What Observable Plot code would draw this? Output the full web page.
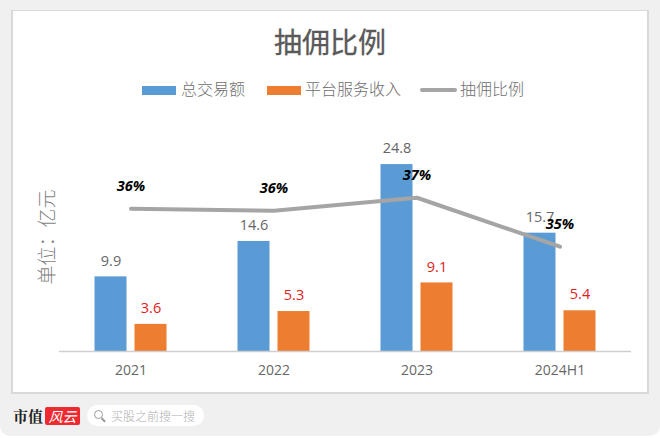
<!DOCTYPE html>
<html><head><meta charset="utf-8">
<script src="https://cdn.jsdelivr.net/npm/d3@7"></script>
<script src="https://cdn.jsdelivr.net/npm/@observablehq/plot@0.6"></script>
<style>
html,body{margin:0;padding:0;background:#fff}
#page{position:relative;width:660px;height:436px;background:#f0f0f0;border-radius:0 0 10px 10px;overflow:hidden;font-family:"Noto Sans CJK SC",sans-serif}
#panel{position:absolute;left:11px;top:10px;width:634px;height:381px;background:#fff;border:2px solid #d9d9d9;border-width:1.5px 2px 2px 2px}
#chart{position:absolute;left:0;top:0}
.t{position:absolute;white-space:nowrap;line-height:1}
.sw{position:absolute}
#title{left:0;width:660px;text-align:center;top:27px;font-size:28px;color:#595959;font-weight:400;-webkit-text-stroke:0.3px #595959}
.lg{top:80px;font-size:16px;color:#6e6e6e;font-weight:300}
#unit{left:45px;top:237px;font-size:19px;color:#7f7f7f;font-weight:300;transform:translate(-50%,-50%) rotate(-90deg)}
#logoA{left:13px;top:408px;font-size:15px;font-weight:700;color:#222;font-family:"Noto Serif CJK SC","Noto Sans CJK SC",serif}
#logoB{left:45px;top:407px;width:35px;height:18px;background:#ee2a30;border-radius:2px;color:#fff;font-size:14px;font-style:italic;text-align:center;line-height:18px}
#pill{position:absolute;left:87px;top:405px;width:117px;height:21px;background:#fff;border-radius:11px}
#pillT{left:111px;top:410px;font-size:12px;color:#b0b0b0;font-weight:300}
#glass{position:absolute;left:94px;top:410px;width:7px;height:7px;border:1.6px solid #9a9a9a;border-radius:50%}
#glassH{position:absolute;left:101px;top:419px;width:5px;height:1.6px;background:#9a9a9a;transform:rotate(45deg)}
</style></head>
<body>
<div id="page">
  <div id="panel"></div>
  <div id="chart"></div>
  <div class="t" id="title">抽佣比例</div>
  <div class="sw" style="left:142px;top:86px;width:34px;height:9px;background:#5b9bd5"></div>
  <div class="t lg" style="left:181px">总交易额</div>
  <div class="sw" style="left:267px;top:86px;width:34px;height:9px;background:#ed7d31"></div>
  <div class="t lg" style="left:305px">平台服务收入</div>
  <div class="sw" style="left:420px;top:88px;width:37px;height:3.5px;background:#a5a5a5;border-radius:2px"></div>
  <div class="t lg" style="left:460px">抽佣比例</div>
  <div class="t" id="unit">单位：亿元</div>
  <div class="t" id="logoA">市值</div>
  <div class="t" id="logoB">风云</div>
  <div id="pill"></div><div id="glass"></div><div id="glassH"></div>
  <div class="t" id="pillT">买股之前搜一搜</div>
</div>
<script>
const years = ["2021","2022","2023","2024H1"];
const totalVolume = [9.9,14.6,24.8,15.7];
const platformRevenue = [3.6,5.3,9.1,5.4];
const commissionRate = [36.55,36.47,37.0,35.0];
const rateLabels = ["36%","36%","37%","35%"];

const yDomain = [0,33.3];
// secondary axis for the rate: 35% and 37% sit at these left-axis equivalents
const rateToLeft = d3.scaleLinear([35,37],[13.9,20.4]);

const rows = years.map((year,i)=>({year,total:totalVolume[i],revenue:platformRevenue[i],rate:rateToLeft(commissionRate[i]),label:rateLabels[i]}));
const latin = '"Open Sans",sans-serif';

const chart = Plot.plot({
  width:660,height:438,
  marginLeft:59,marginRight:29,marginTop:100,marginBottom:87,
  style:{background:"transparent",fontFamily:latin},
  x:{domain:years,padding:0,label:null},
  y:{domain:yDomain,axis:null,label:null},
  marks:[
    Plot.barY(rows,{x:"year",y:"total",fill:"#5b9bd5",insetLeft:35.5,insetRight:75.5}),
    Plot.barY(rows,{x:"year",y:"revenue",fill:"#ed7d31",insetLeft:75.5,insetRight:35.5}),
    Plot.ruleY([0],{stroke:"#cfcfcf",strokeWidth:1.5}),
    Plot.axisX({tickSize:0,tickPadding:14,fontSize:14,fill:"#666",label:null,fontFamily:latin}),
    Plot.text(rows,{x:"year",y:"total",text:d=>d.total.toFixed(1),dx:-20,dy:-16,fontSize:14.5,fill:"#666"}),
    Plot.text(rows,{x:"year",y:"revenue",text:d=>d.revenue.toFixed(1),dx:20,dy:-16,fontSize:14.5,fill:"#e0221c"}),
    Plot.line(rows,{x:"year",y:"rate",stroke:"#a5a5a5",strokeWidth:4,curve:"linear"}),
    Plot.text(rows,{x:"year",y:"rate",text:"label",dy:-22,fontSize:14.5,fontWeight:700,fontStyle:"italic",fill:"#000"})
  ]
});
document.getElementById("chart").append(chart);
</script>
</body></html>
